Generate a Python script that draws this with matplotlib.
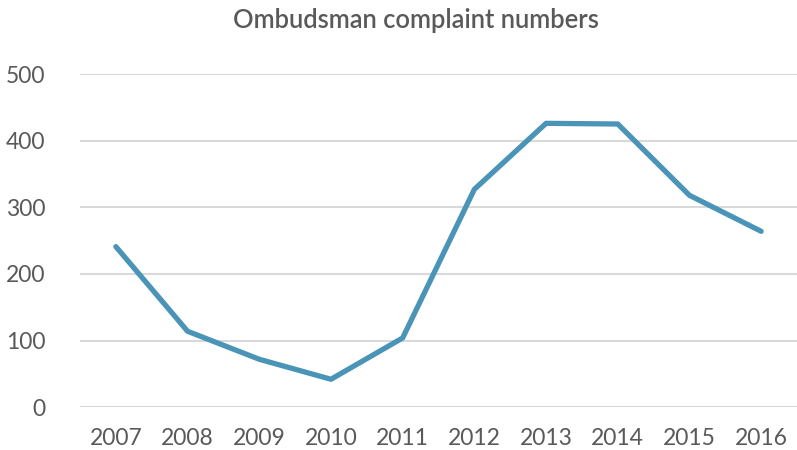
import matplotlib
matplotlib.use("Agg")
import matplotlib.pyplot as plt

years = ["2007", "2008", "2009", "2010", "2011", "2012", "2013", "2014", "2015", "2016"]
complaints = [241, 114, 72, 42, 104, 327, 426, 425, 318, 264]

plt.rcParams["font.family"] = ["Lato", "DejaVu Sans"]

fig = plt.figure(figsize=(7.97, 4.5), dpi=100)
ax = fig.add_axes([0.1004, 0.095, 0.8996, 0.7405])

x = range(len(years))
ax.plot(x, complaints, color="#4A94B8", lw=3.8, solid_capstyle="round", solid_joinstyle="round", zorder=3)

ax.set_xlim(-0.5, len(years) - 0.5)
ax.set_ylim(0, 500)
ax.set_yticks([0, 100, 200, 300, 400, 500])
ax.set_xticks(list(x))
ax.set_xticklabels(years)

ax.grid(axis="y", color="#D9D9D9", lw=1.5)
ax.set_axisbelow(True)
for s in ax.spines.values():
    s.set_visible(False)
ax.tick_params(length=0, labelsize=16.5, colors="#595959")
ax.tick_params(axis="x", pad=15)
ax.tick_params(axis="y", pad=25)

fig.text(0.522, 0.955, "Ombudsman complaint numbers", ha="center", va="center",
         fontsize=18.4, color="#595959", fontweight="semibold")

fig.savefig("out.png", dpi=100)
